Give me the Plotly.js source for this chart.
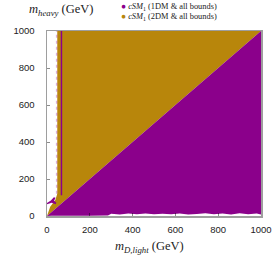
<!DOCTYPE html>
<html>
<head>
<meta charset="utf-8">
<script src="https://cdn.plot.ly/plotly-3.0.1.min.js"></script>
<style>html,body{margin:0;padding:0;background:#fff;}#chart{width:273px;height:256px;}</style>
</head>
<body>
<div id="chart"></div>
<script>
// ---- data (GeV) ----
// 2DM allowed region (above the diagonal)
const goldX = [0, 15, 39, 48, 48, 1000];
const goldY = [0, 50, 86, 120, 1000, 1000];
// 1DM allowed region (below the diagonal), ragged lower edge
const purpleX = [0, 1000, 1000, 980, 940, 900, 860, 820, 780, 740, 700, 660, 620, 580, 540, 500, 460, 420, 380, 340, 300, 285, 200, 100, 20];
const purpleY = [0, 1000, 8, 13, 9, 15, 8, 13, 10, 15, 11, 8, 14, 9, 12, 10, 14, 9, 13, 8, 12, 3, 2, 2, 1];
// 1DM thin vertical strip near m_h/2
const stripX = [64, 71, 71, 64];
const stripY = [112, 112, 1000, 1000];
// sparse 1DM points along the left edge of the 2DM region
const edgeX = [45, 45];
const edgeY = [120, 1000];
// 1DM small island at low mass
const islandX = [0, 18, 32, 40, 33, 44, 40, 22, 0];
const islandY = [70, 84, 102, 98, 82, 72, 64, 72, 64];
const tickVals = [0, 200, 400, 600, 800, 1000];
const seriesNames = ['<i>cSM</i><sub>1</sub> (1DM & all bounds)', '<i>cSM</i><sub>1</sub> (2DM & all bounds)'];
const PURPLE = '#8b008b', GOLD = '#b8860b';

function region(x, y, color) {
  return {x: x, y: y, type: 'scatter', mode: 'lines', fill: 'toself',
          fillcolor: color, line: {width: 0, color: color}, hoverinfo: 'skip', showlegend: false};
}
const traces = [
  region(goldX, goldY, GOLD),
  {x: edgeX, y: edgeY, type: 'scatter', mode: 'lines', line: {width: 1.5, color: 'rgba(139,0,139,0.3)', dash: 'dot'},
   hoverinfo: 'skip', showlegend: false},
  region(purpleX, purpleY, PURPLE),
  region(stripX, stripY, PURPLE),
  region(islandX, islandY, PURPLE)
];

const serif = 'Liberation Serif, DejaVu Serif, serif';
const axisCommon = {
  range: [0, 1000], tickvals: tickVals, ticktext: tickVals.map(String),
  showgrid: false, zeroline: false, showline: true, mirror: true,
  linecolor: 'rgba(0,0,0,0.38)', linewidth: 1.5,
  ticks: 'inside', ticklen: 3, tickcolor: 'rgba(0,0,0,0.45)', tickwidth: 1,
  tickfont: {family: 'Liberation Sans, Arial, sans-serif', size: 9.5, color: '#222'}
};
const layout = {
  width: 273, height: 256,
  margin: {l: 47, r: 12, t: 31, b: 40},
  paper_bgcolor: '#fff', plot_bgcolor: '#fff',
  showlegend: false,
  xaxis: Object.assign({}, axisCommon, {ticklabelstandoff: 4}),
  yaxis: Object.assign({}, axisCommon, {ticklabelstandoff: 9}),
  annotations: [
    {text: '<i>m</i><sub><i>D,light</i></sub> (GeV)', xref: 'paper', yref: 'paper', x: 0.48, y: -0.17,
     xanchor: 'center', yanchor: 'middle', showarrow: false, font: {family: serif, size: 12.5, color: '#222'}},
    {text: '<i>m</i><sub><i>heavy</i></sub> (GeV)', xref: 'paper', yref: 'paper', x: -0.093, y: 1.112,
     xanchor: 'left', yanchor: 'middle', showarrow: false, font: {family: serif, size: 12.5, color: '#222'}},
    {text: '<span style="color:' + PURPLE + '">●</span> ' + seriesNames[0], xref: 'paper', yref: 'paper',
     x: 0.338, y: 1.128, xanchor: 'left', yanchor: 'middle', showarrow: false, font: {family: serif, size: 8.4, color: '#222'}},
    {text: '<span style="color:' + GOLD + '">●</span> ' + seriesNames[1], xref: 'paper', yref: 'paper',
     x: 0.338, y: 1.074, xanchor: 'left', yanchor: 'middle', showarrow: false, font: {family: serif, size: 8.4, color: '#222'}}
  ]
};
Plotly.newPlot('chart', traces, layout, {staticPlot: true, displayModeBar: false});
</script>
</body>
</html>
